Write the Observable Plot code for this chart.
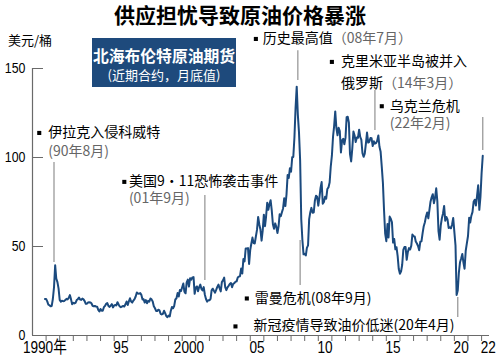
<!DOCTYPE html>
<html>
<head>
<meta charset="utf-8">
<script src="https://cdn.jsdelivr.net/npm/d3@7"></script>
<script src="https://cdn.jsdelivr.net/npm/@observablehq/plot@0.6"></script>
<style>
  body { margin: 0; background: #fff; }
  #wrap { position: relative; width: 500px; height: 364px; overflow: hidden; font-family: "Noto Sans CJK SC", sans-serif; color: #000; }
  #wrap svg { position: absolute; left: 0; top: 0; }
  .title { position: absolute; left: 0; top: 1px; width: 480px; text-align: center; font-size: 21px; font-weight: 700; line-height: 26px; }
  .unit { position: absolute; left: 8px; top: 31px; font-size: 13px; line-height: 18px; }
  .box { position: absolute; left: 92px; top: 38px; width: 144px; height: 49px; background: #1e4a7c; color: #fff; }
  .box div { position: absolute; left: 0; width: 144px; text-align: center; white-space: nowrap; }
  .box .l1 { top: 8px; font-size: 15.8px; font-weight: 700; line-height: 20px; }
  .box .l2 { top: 28px; font-size: 13px; line-height: 18px; }
</style>
</head>
<body>
<div id="wrap">
  <div id="chart"></div>
  <div class="title">供应担忧导致原油价格暴涨</div>
  <div class="unit">美元/桶</div>
  <div class="box"><div class="l1">北海布伦特原油期货</div><div class="l2">(近期合约，月底值)</div></div>
</div>
<script>
// Brent month-end price (USD/bbl), monthly from 1989-12 to 2022-02
const firstMonth = "1989-12";
const brentMonthly = [
  20.5,
  // 1990
  20.5, 19.2, 17.4, 17.0, 16.4, 16.6, 20.5, 27.0, 39.5, 32.0, 30.0, 26.5,
  // 1991
  20.0, 19.0, 19.5, 19.3, 19.4, 19.9, 20.6, 20.3, 21.2, 22.7, 20.3, 17.6,
  // 1992
  18.4, 18.0, 18.3, 19.9, 20.4, 21.3, 20.2, 20.0, 20.7, 20.3, 19.3, 17.8,
  // 1993
  17.9, 18.6, 18.7, 18.6, 18.1, 16.7, 16.4, 16.6, 16.3, 16.2, 14.4, 13.5,
  // 1994
  14.9, 13.9, 13.9, 15.9, 16.6, 17.8, 18.2, 16.6, 16.1, 16.8, 17.6, 15.8,
  // 1995
  16.9, 17.1, 16.9, 18.7, 17.4, 16.3, 15.9, 16.3, 16.6, 16.3, 17.5, 19.1,
  // 1996
  17.1, 19.2, 20.9, 19.1, 18.5, 19.6, 20.4, 21.9, 24.2, 23.6, 23.5, 23.8,
  // 1997
  22.8, 20.2, 20.4, 18.5, 19.9, 18.1, 19.5, 19.0, 20.8, 20.3, 19.1, 16.4,
  // 1998
  15.3, 13.8, 13.7, 14.5, 14.1, 12.2, 11.8, 12.2, 13.9, 12.6, 10.9, 10.3,
  // 1999
  11.2, 10.7, 13.8, 16.0, 15.3, 16.6, 20.2, 20.9, 23.9, 21.9, 25.6, 25.0,
  // 2000
  27.1, 29.2, 24.6, 23.7, 29.8, 31.4, 27.5, 32.2, 31.4, 32.6, 32.8, 23.4,
  // 2001
  27.0, 27.6, 24.8, 27.2, 28.6, 26.2, 25.3, 27.2, 22.9, 20.5, 19.0, 19.8,
  // 2002
  19.8, 20.6, 25.4, 26.3, 25.1, 24.1, 25.6, 27.3, 28.6, 26.6, 24.8, 30.0,
  // 2003
  31.0, 32.5, 27.2, 25.5, 27.0, 27.9, 28.9, 29.5, 27.1, 29.0, 29.4, 30.2,
  // 2004
  30.4, 32.6, 33.1, 33.3, 37.6, 34.8, 43.0, 41.6, 48.9, 48.9, 49.1, 40.2,
  // 2005
  48.2, 51.8, 55.0, 51.9, 51.7, 55.6, 59.3, 66.6, 62.4, 59.6, 53.3, 58.9,
  // 2006
  67.9, 61.4, 66.7, 74.6, 70.6, 73.9, 76.0, 70.3, 62.5, 60.0, 63.0, 61.1,
  // 2007
  57.6, 61.5, 68.1, 67.0, 69.2, 71.4, 77.1, 72.7, 79.2, 90.1, 88.5, 93.9,
  // 2008
  92.0, 100.1, 100.3, 111.4, 127.8, 139.8, 124.1, 114.1, 98.2, 65.3, 53.5, 45.6,
  // 2009
  45.9, 45.0, 49.2, 50.6, 65.4, 69.3, 71.7, 69.0, 69.1, 75.7, 78.5, 77.9,
  // 2010
  72.9, 77.6, 82.7, 86.2, 74.0, 75.0, 77.9, 76.9, 82.3, 83.2, 85.9, 94.8,
  // 2011
  101.0, 111.8, 117.4, 125.9, 116.7, 112.5, 116.7, 114.9, 102.8, 109.6, 110.5, 107.4,
  // 2012
  111.0, 122.7, 122.9, 119.5, 101.9, 97.8, 104.9, 114.6, 112.4, 108.7, 111.2, 111.1,
  // 2013
  115.6, 111.4, 110.0, 102.4, 100.4, 102.2, 107.7, 114.0, 108.4, 108.8, 111.0, 110.8,
  // 2014
  106.4, 109.1, 107.8, 108.1, 109.4, 112.4, 106.0, 103.2, 94.7, 85.9, 70.2, 57.3,
  // 2015
  53.0, 62.6, 55.1, 66.8, 65.6, 63.6, 52.2, 54.2, 48.4, 49.6, 44.6, 37.3,
  // 2016
  34.7, 36.0, 39.6, 48.1, 49.7, 49.7, 42.5, 47.0, 49.1, 48.3, 50.5, 56.8,
  // 2017
  55.7, 55.6, 52.8, 51.7, 50.3, 47.9, 52.7, 52.9, 57.5, 61.4, 63.6, 66.9,
  // 2018
  69.1, 65.8, 70.3, 75.2, 77.6, 79.4, 74.3, 77.4, 82.7, 75.5, 58.7, 53.8,
  // 2019
  61.9, 66.0, 68.4, 72.8, 64.5, 66.6, 65.2, 60.4, 60.8, 60.2, 62.4, 66.0,
  // 2020
  58.2, 50.5, 22.7, 25.3, 35.3, 41.2, 43.3, 45.8, 41.0, 37.5, 47.6, 51.8,
  // 2021
  55.9, 66.1, 63.5, 67.3, 69.3, 75.1, 76.3, 73.0, 78.5, 84.4, 70.6, 77.8,
  // 2022
  91.2, 101.0
];

// axis
const xStart = "1989-01-01";
const xEnd = "2022-08-01";
const yTicks = [0, 50, 100, 150];
const xLabelYears = [1990, 1995, 2000, 2005, 2010, 2015, 2020, 2022];
const xLabels = ["1990年", "95", "2000", "05", "10", "15", "20", "22"];
const yearTickFrom = 1990, yearTickTo = 2022;

// annotations
const noteText  = ["伊拉克入侵科威特", "(90年8月)", "美国9・11恐怖袭击事件", "(01年9月)", "历史最高值（08年7月）",
                   "克里米亚半岛被并入", "俄罗斯（14年3月）", "乌克兰危机", "(22年2月)",
                   "雷曼危机(08年9月)", "新冠疫情导致油价低迷(20年4月)"];
const noteBlack = ["伊拉克入侵科威特", "", "美国9・11恐怖袭击事件", "", "历史最高值",
                   "克里米亚半岛被并入", "俄罗斯", "乌克兰危机", "",
                   "雷曼危机(08年9月)", "新冠疫情导致油价低迷(20年4月)"];
const noteDate  = ["1990-03", "1990-03", "1996-02", "1996-02", "2005-12",
                   "2011-09", "2011-09", "2015-04", "2015-04", "2005-05", "2005-04"];
const noteValue = [113.8, 103.4, 86.3, 77.0, 166.6, 153.7, 141.8, 128.8, 119.2, 20.8, 5.6];

const bulletDate  = ["1989-07", "1995-10", "2005-06", "2011-01", "2014-09", "2004-10", "2003-12"];
const bulletValue = [113.8, 86.3, 166.6, 153.7, 128.8, 20.8, 5.1];

const leaderDate   = ["1990-08", "2001-09", "2008-07", "2014-03", "2022-02", "2008-09", "2020-04"];
const leaderTop    = [97.2, 78.7, 160, 137.6, 122.5, 53.4, 21.3];
const leaderBottom = [41, 30.9, 143.3, 115.2, 103.9, 28.1, 10.1];

// ---- build ----
const parseM = d3.utcParse("%Y-%m");
const m0 = parseM(firstMonth);
const series = brentMonthly.map((v, i) => ({date: d3.utcMonth.offset(m0, i), value: v}));
const notes = noteText.map((t, i) => ({text: t, date: parseM(noteDate[i]), value: noteValue[i]}));
const bullets = bulletDate.map((d, i) => ({date: parseM(d), value: bulletValue[i]}));
const leaders = leaderDate.map((d, i) => ({date: parseM(d), top: leaderTop[i], bottom: leaderBottom[i]}));
const yearTicks = d3.range(yearTickFrom, yearTickTo + 1).map(y => new Date(Date.UTC(y, 0, 1)));
const xLab = xLabelYears.map((y, i) => ({date: new Date(Date.UTC(y, 6, 1)), label: xLabels[i]}));

const tickFont = `"Liberation Sans Narrow", "Arial Narrow", "Liberation Sans", "Noto Sans CJK SC", sans-serif`;
const cjk = `"Noto Sans CJK SC", sans-serif`;
const axisGray = "#6a6a6a";

const chart = Plot.plot({
  width: 500,
  height: 364,
  marginLeft: 32,
  marginRight: 11,
  marginTop: 68,
  marginBottom: 29,
  style: {background: "transparent", overflow: "visible", fontFamily: cjk},
  x: {type: "utc", domain: [new Date(xStart), new Date(xEnd)]},
  y: {domain: [0, 150]},
  marks: [
    Plot.ruleX([new Date(xStart)], {stroke: axisGray, strokeWidth: 1.2}),
    Plot.ruleY([0], {stroke: axisGray, strokeWidth: 1.2}),
    Plot.axisY({ticks: yTicks, tickSize: -11, tickPadding: 18, stroke: axisGray,
                fontSize: 15.5, fontFamily: tickFont, fill: "#000", label: null, tickFormat: d => String(d)}),
    Plot.axisX({ticks: yearTicks, tickSize: 6, stroke: axisGray, tickFormat: () => "", label: null}),
    Plot.text(xLab.slice(1), {x: "date", text: "label", frameAnchor: "bottom", dy: 17,
                              fontSize: 17, fontFamily: tickFont, fill: "#000"}),
    Plot.text(xLab.slice(0, 1), {x: "date", text: "label", frameAnchor: "bottom", dy: 17.5, dx: -8,
                                 fontSize: 17, fontFamily: tickFont, fill: "#000"}),
    Plot.ruleX(leaders, {x: "date", y1: "top", y2: "bottom", stroke: "#9a9a9a", strokeWidth: 1.3, clip: false}),
    Plot.line(series, {x: "date", y: "value", stroke: "#1b4a7e", strokeWidth: 2, strokeLinejoin: "round"}),
    Plot.dot(bullets, {x: "date", y: "value", symbol: "square", r: 2.3, fill: "#000", stroke: null}),
    Plot.text(notes, {x: "date", y: "value", text: "text", textAnchor: "start", fill: "#666",
                      fontSize: 14, fontFamily: cjk})
  ]
});
document.getElementById("chart").appendChild(chart);

// colour the black part of each annotation line (rest stays grey)
const blackOf = new Map(noteText.map((t, i) => [t, noteBlack[i]]));
chart.querySelectorAll("text").forEach(el => {
  const t = el.textContent;
  if (!blackOf.has(t)) return;
  const b = blackOf.get(t);
  if (!b) return;
  const rest = t.slice(b.length);
  el.textContent = "";
  const ns = "http://www.w3.org/2000/svg";
  const s1 = document.createElementNS(ns, "tspan");
  s1.setAttribute("fill", "#000");
  s1.textContent = b;
  el.appendChild(s1);
  if (rest) {
    const s2 = document.createElementNS(ns, "tspan");
    s2.setAttribute("fill", "#666");
    s2.textContent = rest;
    el.appendChild(s2);
  }
});

// condense the tick labels (the original uses a narrow face)
const tickSet = new Set([...xLabels, ...yTicks.map(String)]);
function condense() {
  chart.querySelectorAll("text").forEach(el => {
    if (!tickSet.has(el.textContent)) return;
    el.removeAttribute("textLength");
    el.removeAttribute("lengthAdjust");
    const w = el.getComputedTextLength();
    if (w > 0) {
      el.setAttribute("textLength", (w * 0.8).toFixed(1));
      el.setAttribute("lengthAdjust", "spacingAndGlyphs");
    }
  });
}
condense();
if (document.fonts && document.fonts.ready) document.fonts.ready.then(condense);
</script>
</body>
</html>
